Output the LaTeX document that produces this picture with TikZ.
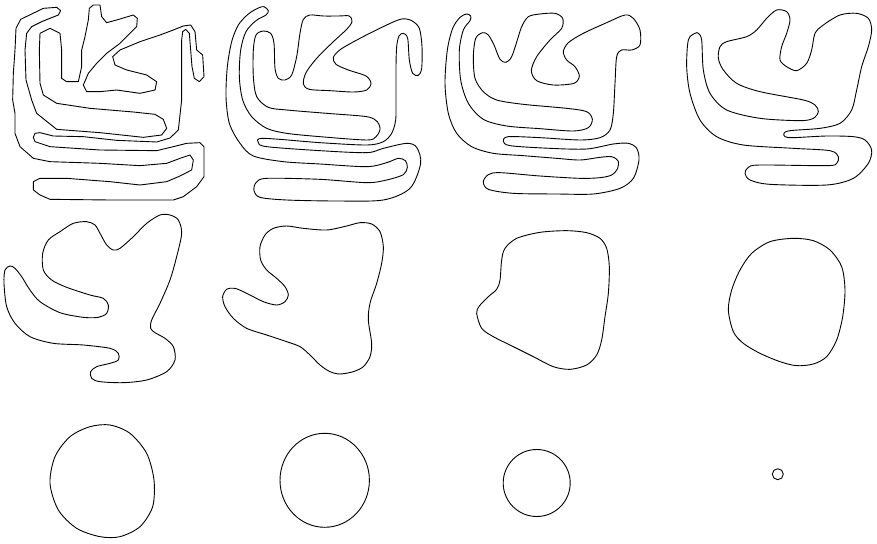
\documentclass[tikz,border=0pt]{standalone}
\begin{document}
\begin{tikzpicture}[x=1pt,y=-1pt,
    cshape/.style={line width=0.9pt, line join=round}]
    \useasboundingbox (0,0) rectangle (877,543);
    % panel 1: the rough start curve
    \begin{scope}[shift={(0,0)}, scale=1/3]
    \draw[cshape] plot[sharp cycle] coordinates {
        (170,22) (130,25) (95,42) (62,58) (48,85) (45,150) (40,220) (38,300) (45,340) (45,400)
        (60,440) (100,475) (150,485) (300,490) (420,497) (500,490) (540,475) (570,465) (580,480)
        (575,510) (540,528) (500,545) (420,555) (330,545) (200,535) (120,535) (100,545) (100,570)
        (120,585) (150,598) (330,600) (520,600) (550,590) (590,560) (612,530) (612,440) (600,428)
        (560,430) (520,440) (470,452) (300,450) (150,440) (105,425) (100,412) (105,400) (120,398)
        (160,408) (250,410) (350,421) (470,426) (510,414) (535,390) (545,300) (545,200) (545,120)
        (548,95) (557,88) (568,100) (572,150) (576,200) (583,235) (598,245) (612,230) (608,165)
        (590,150) (585,95) (572,75) (550,78) (520,90) (480,105) (420,125) (360,150) (338,170)
        (345,195) (380,210) (440,225) (470,245) (465,270) (420,280) (350,270) (300,275) (260,275)
        (250,255) (265,220) (290,190) (320,160) (360,130) (390,100) (410,80) (412,55) (400,45)
        (350,60) (320,68) (305,50) (300,15) (280,15) (268,25) (265,60) (255,110) (245,150)
        (245,200) (235,245) (200,245) (185,235) (185,150) (180,100) (150,85) (120,100) (118,150)
        (120,250) (130,285) (170,310) (270,325) (400,336) (465,343) (490,358) (500,385) (485,405)
        (430,412) (300,398) (170,388) (110,340) (95,300) (78,240) (75,150) (80,100) (95,80)
        (125,65) (150,55) (175,45) (182,32)};
    \end{scope}
    % panel 2
    \begin{scope}[shift={(220,0)}, scale=1/3]
    \draw[cshape] plot[smooth cycle] coordinates {
        (132,20) (115,24) (85,42) (55,75) (35,125) (22,200) (18,290) (28,370) (60,430) (100,468)
        (190,485) (300,492) (440,500) (500,488) (535,475) (556,482) (562,502) (550,524) (500,540)
        (440,548) (300,538) (140,535) (108,548) (102,572) (120,592) (200,600) (350,603) (490,600)
        (570,565) (602,490) (590,442) (560,430) (490,445) (440,458) (300,452) (140,440) (115,428)
        (130,415) (300,428) (440,435) (490,425) (515,400) (527,360) (528,300) (528,200) (530,140)
        (537,108) (550,100) (563,115) (568,180) (578,220) (595,226) (605,205) (606,140) (598,85)
        (575,62) (545,57) (500,75) (420,115) (362,148) (340,172) (348,193) (385,210) (438,228)
        (453,250) (440,270) (400,276) (330,272) (268,268) (250,252) (258,218) (290,175) (340,125)
        (380,88) (396,65) (388,48) (355,48) (310,48) (270,45) (250,58) (240,100) (230,170)
        (215,225) (195,240) (175,235) (165,205) (162,130) (152,100) (130,93) (108,105) (100,150)
        (100,230) (110,290) (145,322) (200,330) (320,340) (440,350) (472,365) (480,388) (468,410)
        (440,420) (300,410) (200,400) (140,385) (95,350) (68,300) (58,230) (62,150) (78,95)
        (108,62) (138,45) (145,32)};
    \end{scope}
    % panel 3
    \begin{scope}[shift={(440,0)}, scale=1/3]
    \draw[cshape] plot[smooth cycle] coordinates {
        (80,42) (60,52) (38,85) (22,150) (15,250) (25,340) (50,400) (95,440) (160,460) (250,467)
        (350,475) (420,480) (480,472) (515,470) (534,482) (533,505) (515,525) (480,533) (420,535)
        (300,528) (180,518) (145,524) (130,545) (145,568) (220,580) (350,582) (460,582) (540,565)
        (580,535) (597,480) (590,445) (565,430) (520,432) (440,447) (330,445) (210,437) (190,423)
        (205,410) (300,413) (420,420) (480,413) (510,390) (520,340) (525,250) (530,170) (545,150)
        (575,150) (600,135) (600,90) (580,55) (555,45) (500,68) (430,100) (385,128) (370,155)
        (380,180) (405,200) (418,228) (402,250) (340,255) (290,242) (274,212) (290,170) (330,120)
        (365,85) (368,55) (345,40) (300,42) (265,50) (245,80) (232,120) (215,170) (198,187)
        (180,178) (162,135) (145,105) (128,98) (107,115) (100,170) (105,235) (130,275) (170,300)
        (250,313) (380,325) (440,335) (457,358) (445,383) (400,393) (300,386) (200,378) (130,358)
        (85,310) (62,240) (58,150) (70,90) (90,62) (92,48)};
    \end{scope}
    % panel 4
    \begin{scope}[shift={(660,0)}, scale=1/3]
    \draw[cshape] plot[smooth cycle] coordinates {
        (105,100) (85,120) (80,200) (90,280) (120,360) (170,410) (250,435) (400,445) (510,452)
        (535,470) (530,490) (500,497) (300,495) (265,502) (255,520) (270,540) (330,553) (500,555)
        (580,535) (625,490) (635,450) (615,420) (580,410) (500,408) (400,413) (375,410) (372,400)
        (390,392) (480,385) (540,370) (575,330) (590,270) (605,200) (625,140) (635,90) (625,55)
        (590,40) (540,45) (490,75) (465,100) (455,150) (440,190) (410,212) (380,200) (360,180)
        (365,140) (380,100) (390,60) (380,35) (350,30) (320,55) (290,90) (260,110) (200,125)
        (180,140) (175,175) (190,210) (230,250) (300,275) (430,300) (465,315) (475,335) (460,355)
        (420,362) (300,355) (200,330) (150,280) (130,210) (125,120) (115,100)};
    \end{scope}
    % panel 5
    \begin{scope}[shift={(0,200)}, scale=1/3]
    \draw[cshape] plot[smooth cycle] coordinates {
        (30,198) (15,210) (12,250) (20,320) (45,370) (90,410) (160,430) (250,435) (330,445)
        (355,460) (355,480) (330,490) (290,500) (272,515) (275,535) (300,545) (370,548) (440,540)
        (500,515) (525,480) (520,440) (495,415) (465,398) (452,385) (455,360) (480,310) (510,240)
        (530,170) (545,100) (535,60) (510,45) (480,45) (440,70) (400,110) (360,145) (340,150)
        (320,135) (300,100) (285,75) (260,65) (220,70) (180,95) (145,120) (128,160) (130,210)
        (155,240) (200,262) (270,285) (310,295) (325,315) (320,340) (295,352) (250,352) (180,338)
        (120,305) (90,270) (65,230) (45,205)};
    \end{scope}
    % panel 6
    \begin{scope}[shift={(220,200)}, scale=1/3]
    \draw[cshape] plot[smooth cycle] coordinates {
        (120,140) (135,105) (160,85) (200,78) (250,85) (320,90) (380,78) (420,68) (455,72)
        (480,95) (490,140) (485,190) (470,250) (450,310) (445,360) (455,430) (450,470) (430,500)
        (400,515) (360,522) (330,515) (300,495) (270,465) (240,440) (200,425) (140,405) (80,385)
        (40,355) (15,320) (8,290) (20,268) (45,265) (80,280) (130,305) (170,315) (195,305)
        (205,285) (195,260) (170,235) (140,210) (122,180)};
    \end{scope}
    % panel 7
    \begin{scope}[shift={(440,200)}, scale=1/3]
    \draw[cshape] plot[smooth cycle] coordinates {
        (110,340) (118,318) (145,290) (170,268) (180,240) (185,180) (195,145) (230,115) (300,97)
        (380,92) (440,98) (480,115) (500,145) (508,200) (505,280) (495,350) (485,420) (470,465)
        (440,495) (390,508) (340,500) (280,470) (220,440) (160,410) (125,385)};
    \end{scope}
    % panel 8
    \begin{scope}[shift={(660,200)}, scale=1/3]
    \draw[cshape] plot[smooth cycle] coordinates {
        (205,330) (215,270) (240,210) (275,160) (330,125) (400,115) (460,122) (510,150) (545,200)
        (555,270) (548,350) (530,420) (500,470) (460,492) (410,497) (360,485) (300,460) (250,430)
        (220,395)};
    \end{scope}
    % bottom row: near circles
    \begin{scope}[shift={(0,400)}, scale=1/3]
    \draw[cshape] plot[smooth cycle] coordinates {
        (150,250) (165,170) (210,110) (270,80) (330,75) (390,100) (440,160) (462,240) (458,320)
        (420,380) (360,410) (300,410) (230,385) (175,330)};
    \end{scope}
    \draw[cshape] (324.7,480.3) ellipse (44.7 and 47);
    \draw[cshape] (536.7,483) circle (33.5);
    \draw[cshape] (777.8,474.2) circle (5.5);
\end{tikzpicture}
\end{document}
